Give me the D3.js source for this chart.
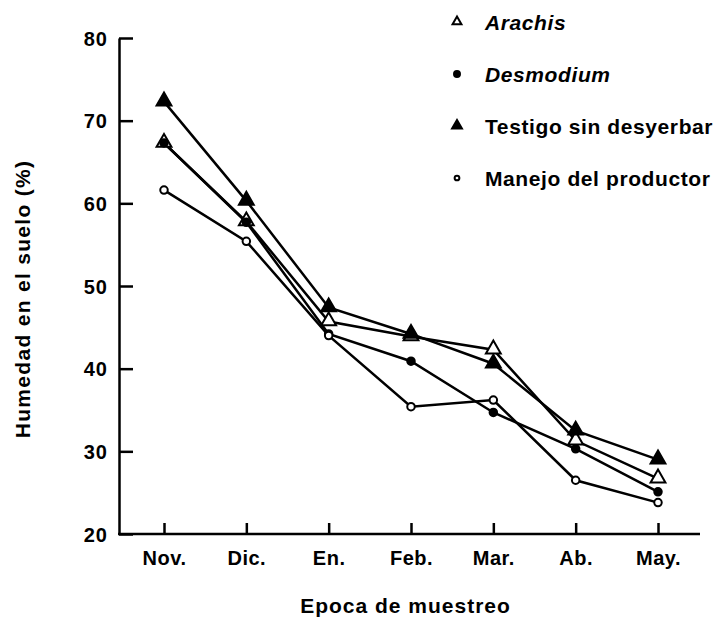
<!DOCTYPE html>
<meta charset="utf-8">
<script src="https://d3js.org/d3.v7.min.js"></script>
<style>
  body { margin: 0; background: #fff; }
  text { font-family: "Liberation Sans", Arial, Helvetica, sans-serif; font-weight: bold; fill: #000; }
</style>
<div id="my_dataviz"></div>
<script>

// Sampling months
var months = ["Nov.", "Dic.", "En.", "Feb.", "Mar.", "Ab.", "May."]

// Soil moisture (%) per treatment
var arachis   = [67.3, 57.8, 45.7, 43.9, 42.3, 31.3, 26.7]
var desmodium = [67.3, 57.7, 44.2, 40.9, 34.7, 30.3, 25.1]
var testigo   = [72.3, 60.3, 47.4, 44.2, 40.6, 32.5, 29.0]
var manejo    = [61.6, 55.4, 44.0, 35.4, 36.2, 26.5, 23.8]

var yTicks = [20, 30, 40, 50, 60, 70, 80]

var series = [
  {name: "Arachis", values: arachis, marker: "triangle", filled: false, italic: true},
  {name: "Desmodium", values: desmodium, marker: "circle", filled: true, italic: true},
  {name: "Testigo sin desyerbar", values: testigo, marker: "triangle", filled: true, italic: false},
  {name: "Manejo del productor", values: manejo, marker: "circle", filled: false, italic: false}
]

var width = 715, height = 622

var svg = d3.select("#my_dataviz")
  .append("svg")
  .attr("width", width)
  .attr("height", height)

var x = d3.scalePoint()
  .domain(months)
  .range([164, 658])

var y = d3.scaleLinear()
  .domain([20, 80])
  .range([534, 38])

var axisLeft = 119, axisRight = 700

// Y axis, ticks pointing inwards
var yAxis = svg.append("g")
  .attr("transform", "translate(" + axisLeft + ",0)")
  .call(d3.axisRight(y).tickValues(yTicks).tickSize(14).tickSizeOuter(0).tickFormat(""))
yAxis.select(".domain").attr("stroke-width", 2.5)
yAxis.selectAll(".tick line").attr("stroke-width", 2.5)

yAxis.selectAll(".tick")
  .append("text")
  .attr("x", -11)
  .attr("dy", "0.36em")
  .attr("text-anchor", "end")
  .style("font-size", "20px")
  .style("letter-spacing", "1px")
  .text(function(d) { return d })

// X axis, ticks pointing upwards
var xAxis = svg.append("g")
  .attr("transform", "translate(0," + y(20) + ")")
  .call(d3.axisTop(x).tickSize(11).tickSizeOuter(0).tickFormat(""))
xAxis.select(".domain").attr("d", "M" + (axisLeft - 1) + ",0H" + axisRight).attr("stroke-width", 2.5)
xAxis.selectAll(".tick line").attr("stroke-width", 2.5)

xAxis.selectAll(".tick")
  .append("text")
  .attr("y", 31)
  .attr("text-anchor", "middle")
  .style("font-size", "20px")
  .style("letter-spacing", "0.5px")
  .text(function(d) { return d })

// Axis titles
svg.append("text")
  .attr("x", (axisLeft + axisRight) / 2 - 4)
  .attr("y", 613)
  .attr("text-anchor", "middle")
  .style("font-size", "21px")
  .style("letter-spacing", "1px")
  .text("Epoca de muestreo")

svg.append("text")
  .attr("transform", "translate(30," + 299 + ") rotate(-90)")
  .attr("text-anchor", "middle")
  .style("font-size", "21px")
  .style("letter-spacing", "1.3px")
  .text("Humedad en el suelo (%)")

var line = d3.line()
  .x(function(d, i) { return x(months[i]) })
  .y(function(d) { return y(d) })

// Lines
svg.append("g")
  .selectAll("path")
  .data(series)
  .enter()
  .append("path")
  .attr("d", function(d) { return line(d.values) })
  .attr("fill", "none")
  .attr("stroke", "#000")
  .attr("stroke-width", 2.5)

var tri = d3.symbol().type(d3.symbolTriangle)

function drawMarker(g, s, size) {
  if (s.marker == "triangle") {
    g.append("path")
      .attr("d", tri.size(size)())
      .attr("transform", "translate(0," + (-Math.sqrt(size) * 0.05) + ")")
      .attr("fill", s.filled ? "#000" : "#fff")
      .attr("stroke", "#000")
      .attr("stroke-width", 2)
  } else {
    g.append("circle")
      .attr("r", Math.sqrt(size) / 2.6)
      .attr("fill", s.filled ? "#000" : "#fff")
      .attr("stroke", "#000")
      .attr("stroke-width", 2)
  }
}

// Markers
series.forEach(function(s) {
  s.values.forEach(function(v, i) {
    var g = svg.append("g")
      .attr("transform", "translate(" + x(months[i]) + "," + y(v) + ")")
    drawMarker(g, s, 95)
  })
})

// Legend
var legendSizes = [34, 60, 42, 38]
var legend = svg.append("g")
series.forEach(function(s, i) {
  var row = legend.append("g")
    .attr("transform", "translate(457," + (22 + i * 52) + ")")
  drawMarker(row, s, legendSizes[i])
  row.append("text")
    .attr("x", 28)
    .attr("dy", "0.36em")
    .style("font-size", "21px")
    .style("font-style", s.italic ? "italic" : "normal")
    .style("letter-spacing", "0.6px")
    .text(s.name)
})

</script>
